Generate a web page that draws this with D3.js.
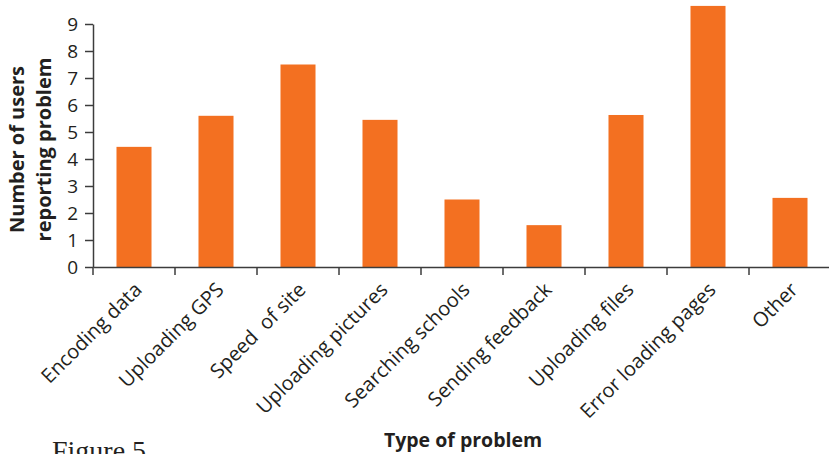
<!DOCTYPE html>
<html>
<head>
<meta charset="utf-8">
<script src="https://cdn.jsdelivr.net/npm/d3@7"></script>
<style>
  html, body { margin: 0; padding: 0; background: #fff; }
  svg { display: block; }
</style>
</head>
<body>
<svg id="chart" width="829" height="454"></svg>
<script>
const categories = ["Encoding data", "Uploading GPS", "Speed  of site", "Uploading pictures",
  "Searching schools", "Sending feedback", "Uploading files", "Error loading pages", "Other"];
const values = [4.45, 5.6, 7.5, 5.45, 2.5, 1.55, 5.63, 9.67, 2.56];
const yTicks = [0, 1, 2, 3, 4, 5, 6, 7, 8, 9];
const yTitleLines = ["Number of users", "reporting problem"];
const xTitle = "Type of problem";
const caption = "Figure 5";

const svg = d3.select("#chart");
const margin = { left: 93, right: -2, top: 24, bottom: 187 };
const W = 829, H = 454;
const font = "'Open Sans', sans-serif";
const ink = "#231f20";
const axisColor = "#3c3c3c";
const barColor = "#f37021";

const x = d3.scaleBand()
  .domain(categories)
  .range([margin.left, W - margin.right])
  .paddingInner(0.573)
  .paddingOuter(0.2865);

const y = d3.scaleLinear()
  .domain([0, 9])
  .range([H - margin.bottom, margin.top]);

// bars
svg.append("g").selectAll("rect")
  .data(categories)
  .join("rect")
  .attr("x", d => x(d))
  .attr("width", x.bandwidth())
  .attr("y", (d, i) => y(values[i]))
  .attr("height", (d, i) => y(0) - y(values[i]))
  .attr("fill", barColor);

// y axis
const yAxis = svg.append("g")
  .attr("transform", `translate(${margin.left},0)`)
  .call(d3.axisLeft(y).tickValues(yTicks).tickSize(8).tickSizeOuter(0).tickPadding(7));
yAxis.selectAll("path, line").attr("stroke", axisColor).attr("stroke-width", 1.5);
yAxis.selectAll("text")
  .attr("font-family", font).attr("font-size", 19).attr("fill", ink);

// x axis
const xAxis = svg.append("g")
  .attr("transform", `translate(0,${y(0)})`)
  .call(d3.axisBottom(x).tickSize(0).tickSizeOuter(0).tickFormat(""));
xAxis.select("path").attr("stroke", axisColor).attr("stroke-width", 1.5);
xAxis.selectAll(".tick").remove();

const gap = (x.step() - x.bandwidth()) / 2;
svg.append("g").selectAll("line")
  .data(categories)
  .join("line")
  .attr("x1", d => x(d) - gap).attr("x2", d => x(d) - gap)
  .attr("y1", y(0)).attr("y2", y(0) + 8)
  .attr("stroke", axisColor).attr("stroke-width", 1.5);

svg.append("g").selectAll("text")
  .data(categories)
  .join("text")
  .attr("transform", d => `translate(${x(d) + x.bandwidth() / 2 + 9},${y(0) + 24}) rotate(-45)`)
  .attr("text-anchor", "end")
  .attr("font-family", font)
  .attr("font-size", 20)
  .attr("fill", ink)
  .style("white-space", "pre")
  .text(d => d);

// y title
const yt = svg.append("text")
  .attr("transform", `translate(24,${(y(0) + y(9)) / 2 + 4}) rotate(-90)`)
  .attr("text-anchor", "middle")
  .attr("font-family", font)
  .attr("font-weight", "bold")
  .attr("font-size", 20)
  .attr("fill", ink);
yt.selectAll("tspan").data(yTitleLines).join("tspan")
  .attr("x", 0).attr("dy", (d, i) => i === 0 ? 0 : 27)
  .text(d => d);

// x title
svg.append("text")
  .attr("x", 463).attr("y", 447)
  .attr("text-anchor", "middle")
  .attr("font-family", font)
  .attr("font-weight", "bold")
  .attr("font-size", 19.5)
  .attr("fill", ink)
  .text(xTitle);

// caption
svg.append("text")
  .attr("x", 52).attr("y", 460)
  .attr("font-family", "'Liberation Serif', 'Times New Roman', serif")
  .attr("font-size", 28)
  .attr("fill", ink)
  .text(caption);
</script>
</body>
</html>
